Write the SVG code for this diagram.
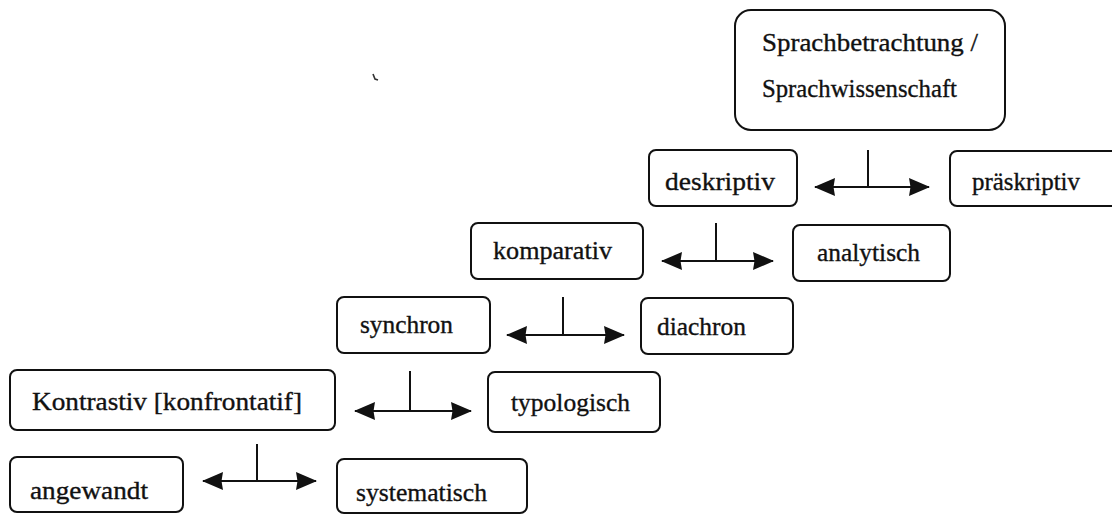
<svg xmlns="http://www.w3.org/2000/svg" width="1112" height="514" viewBox="0 0 1112 514">
<style>
.box{fill:#fff;stroke:#111;stroke-width:2}
.lbl{font-family:"Liberation Serif","Times New Roman",serif;font-size:26px;fill:#111;stroke:#111;stroke-width:0.35}
.ln{fill:none;stroke:#111;stroke-width:2}
.ar{fill:none;stroke:#111;stroke-width:2.2;marker-start:url(#ah);marker-end:url(#ah)}
</style>
<defs>
<marker id="ah" markerUnits="userSpaceOnUse" markerWidth="21" markerHeight="20" refX="20" refY="10" orient="auto-start-reverse">
<path d="M0,1 L21,10 L0,19 L1.5,10 z" fill="#111"/>
</marker>
</defs>
<rect width="1112" height="514" fill="#fff"/>
<g id="n-sprach">
<rect class="box" x="735" y="10" width="270" height="120" rx="16"/>
<text class="lbl" x="762" y="51" textLength="216" lengthAdjust="spacingAndGlyphs">Sprachbetrachtung /</text>
<text class="lbl" x="762" y="97" textLength="195" lengthAdjust="spacingAndGlyphs">Sprachwissenschaft</text>
</g>
<g id="n-deskriptiv">
<rect class="box" x="649" y="150" width="148" height="56" rx="7"/>
<text class="lbl" x="665" y="190" textLength="110" lengthAdjust="spacingAndGlyphs">deskriptiv</text>
</g>
<g id="n-praeskriptiv">
<rect class="box" x="950" y="151" width="175" height="55" rx="7"/>
<text class="lbl" x="972" y="190" textLength="108" lengthAdjust="spacingAndGlyphs">präskriptiv</text>
</g>
<g id="n-komparativ">
<rect class="box" x="471" y="223" width="172" height="56" rx="7"/>
<text class="lbl" x="493" y="259" textLength="119" lengthAdjust="spacingAndGlyphs">komparativ</text>
</g>
<g id="n-analytisch">
<rect class="box" x="793" y="225" width="157" height="56" rx="7"/>
<text class="lbl" x="817" y="261" textLength="103" lengthAdjust="spacingAndGlyphs">analytisch</text>
</g>
<g id="n-synchron">
<rect class="box" x="337" y="297" width="153" height="56" rx="7"/>
<text class="lbl" x="360" y="333" textLength="93" lengthAdjust="spacingAndGlyphs">synchron</text>
</g>
<g id="n-diachron">
<rect class="box" x="641" y="298" width="152" height="56" rx="7"/>
<text class="lbl" x="657" y="335" textLength="89" lengthAdjust="spacingAndGlyphs">diachron</text>
</g>
<g id="n-kontrastiv">
<rect class="box" x="10" y="370" width="325" height="60" rx="7"/>
<text class="lbl" x="32" y="410" textLength="270" lengthAdjust="spacingAndGlyphs">Kontrastiv [konfrontatif]</text>
</g>
<g id="n-typologisch">
<rect class="box" x="488" y="372" width="172" height="60" rx="7"/>
<text class="lbl" x="511" y="411" textLength="119" lengthAdjust="spacingAndGlyphs">typologisch</text>
</g>
<g id="n-angewandt">
<rect class="box" x="10" y="457" width="173" height="55" rx="7"/>
<text class="lbl" x="30" y="499" textLength="118" lengthAdjust="spacingAndGlyphs">angewandt</text>
</g>
<g id="n-systematisch">
<rect class="box" x="337" y="459" width="190" height="54" rx="7"/>
<text class="lbl" x="356" y="501" textLength="131" lengthAdjust="spacingAndGlyphs">systematisch</text>
</g>
<g id="connectors">
<line class="ln" x1="868" y1="150" x2="868" y2="187"/>
<line class="ar" x1="815" y1="187" x2="929" y2="187"/>
<line class="ln" x1="716" y1="223" x2="716" y2="261"/>
<line class="ar" x1="662" y1="261" x2="773" y2="261"/>
<line class="ln" x1="563" y1="297" x2="563" y2="335"/>
<line class="ar" x1="507" y1="335" x2="624" y2="335"/>
<line class="ln" x1="410" y1="371" x2="410" y2="411"/>
<line class="ar" x1="355" y1="411" x2="471" y2="411"/>
<line class="ln" x1="257" y1="444" x2="257" y2="481"/>
<line class="ar" x1="203" y1="481" x2="316" y2="481"/>
</g>
<path d="M373,74 L375,79 L378,80" fill="none" stroke="#333" stroke-width="1.6"/>
</svg>
